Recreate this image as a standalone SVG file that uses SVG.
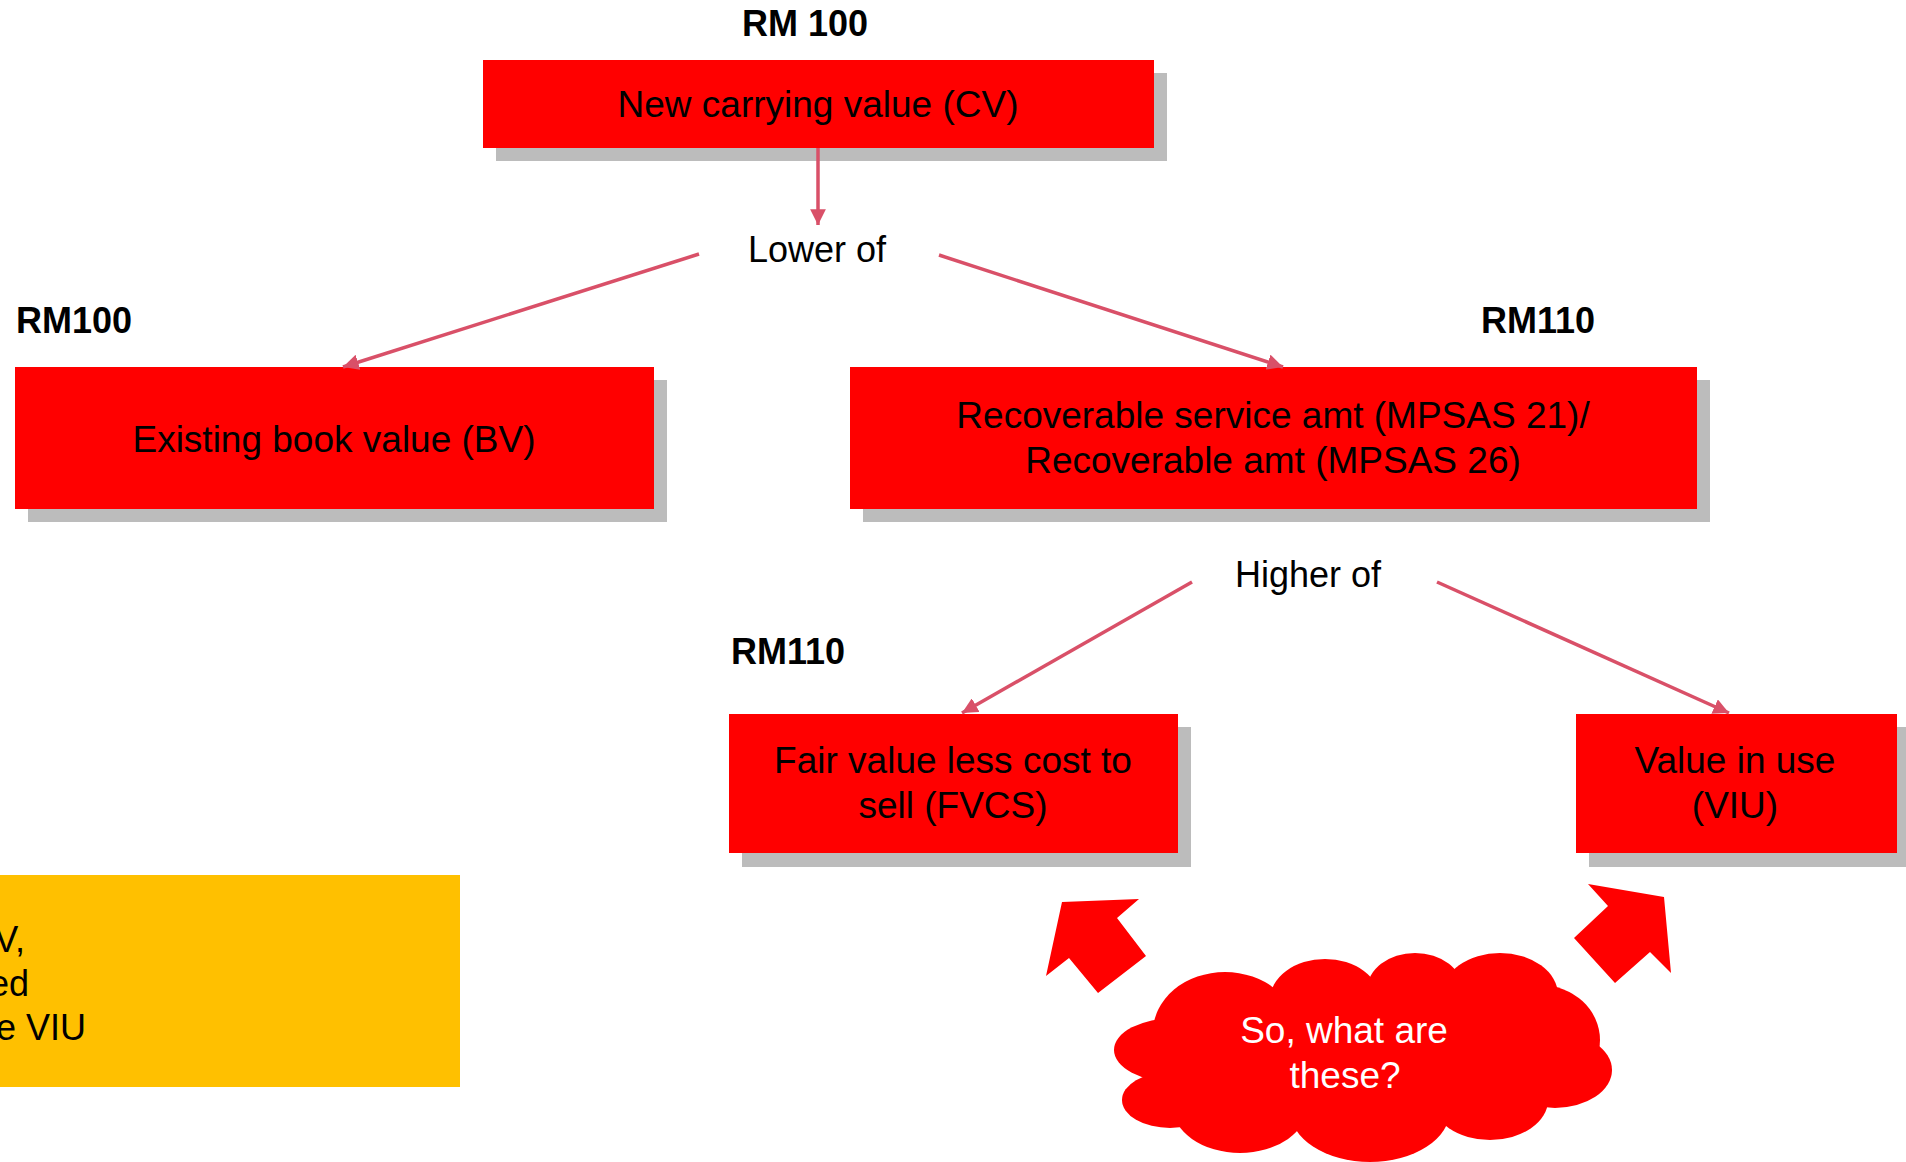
<svg xmlns="http://www.w3.org/2000/svg" width="1906" height="1162" viewBox="0 0 1906 1162">
<style>
.box{fill:#FF0000}
.shadow{fill:#BCBCBC}
.t{font-family:"Liberation Sans",Arial,sans-serif;font-size:37px;fill:#000;text-anchor:middle}
.lbl{font-family:"Liberation Sans",Arial,sans-serif;font-size:36px;fill:#000;text-anchor:middle}
.rm{font-family:"Liberation Sans",Arial,sans-serif;font-size:36px;font-weight:bold;fill:#000}
.conn{stroke:#D95068;stroke-width:3.5;fill:none;marker-end:url(#ah)}
.cloudtxt{font-family:"Liberation Sans",Arial,sans-serif;font-size:37px;fill:#FFFFFF;text-anchor:middle}
</style>
<defs>
<marker id="ah" viewBox="0 0 10 10" refX="10" refY="5" markerWidth="4.5" markerHeight="4.5" orient="auto" markerUnits="strokeWidth">
<path d="M0,0 L10,5 L0,10 Z" fill="#D95068"/>
</marker>
</defs>
<rect width="1906" height="1162" fill="#FFFFFF"/>

<g id="label-rm100-top"><text class="rm" x="805" y="36" text-anchor="middle">RM 100</text></g>
<g id="label-rm100-left"><text class="rm" x="16" y="333">RM100</text></g>
<g id="label-rm110-right"><text class="rm" x="1481" y="333">RM110</text></g>
<g id="label-rm110-mid"><text class="rm" x="731" y="664">RM110</text></g>

<g id="node-cv">
<rect class="shadow" x="496" y="73" width="671" height="88"/>
<rect class="box" x="483" y="60" width="671" height="88"/>
<text class="t" x="818" y="117">New carrying value (CV)</text>
</g>

<g id="node-lower"><text class="lbl" x="817" y="262">Lower of</text></g>

<g id="node-bv">
<rect class="shadow" x="28" y="380" width="639" height="142"/>
<rect class="box" x="15" y="367" width="639" height="142"/>
<text class="t" x="334" y="452">Existing book value (BV)</text>
</g>

<g id="node-rec">
<rect class="shadow" x="863" y="380" width="847" height="142"/>
<rect class="box" x="850" y="367" width="847" height="142"/>
<text class="t" x="1273" y="428">Recoverable service amt (MPSAS 21)/</text>
<text class="t" x="1273" y="473">Recoverable amt (MPSAS 26)</text>
</g>

<g id="node-higher"><text class="lbl" x="1308" y="587">Higher of</text></g>

<g id="node-fvcs">
<rect class="shadow" x="742" y="727" width="449" height="140"/>
<rect class="box" x="729" y="714" width="449" height="139"/>
<text class="t" x="953" y="773">Fair value less cost to</text>
<text class="t" x="953" y="818">sell (FVCS)</text>
</g>

<g id="node-viu">
<rect class="shadow" x="1589" y="727" width="330" height="140"/>
<rect class="box" x="1576" y="714" width="321" height="139"/>
<text class="t" x="1735" y="773">Value in use</text>
<text class="t" x="1735" y="818">(VIU)</text>
</g>

<g id="note">
<rect x="0" y="875" width="460" height="212" fill="#FFC000"/>
<text class="lbl" x="25" y="952" style="text-anchor:end">V,</text>
<text class="lbl" x="29" y="996" style="text-anchor:end">ed</text>
<text class="lbl" x="86" y="1040" style="text-anchor:end">e VIU</text>
</g>

<g id="block-arrows" fill="#FF0000">
<polygon points="1062,902 1139,899 1117,918 1146,956 1098,993 1069,958 1046,976"/>
<polygon points="1588,884 1664,897 1671,973 1650,952 1615,983 1574,938 1608,906"/>
</g>

<g id="cloud">
<g fill="#FF0000">
<ellipse cx="1225" cy="1032" rx="72" ry="60"/>
<ellipse cx="1325" cy="1000" rx="55" ry="41"/>
<ellipse cx="1415" cy="990" rx="48" ry="37"/>
<ellipse cx="1500" cy="995" rx="58" ry="42"/>
<ellipse cx="1540" cy="1040" rx="60" ry="55"/>
<ellipse cx="1555" cy="1070" rx="57" ry="38"/>
<ellipse cx="1490" cy="1100" rx="58" ry="40"/>
<ellipse cx="1370" cy="1110" rx="80" ry="52"/>
<ellipse cx="1240" cy="1105" rx="68" ry="48"/>
<ellipse cx="1170" cy="1100" rx="48" ry="28"/>
<ellipse cx="1175" cy="1050" rx="61" ry="32"/>
<ellipse cx="1360" cy="1060" rx="200" ry="70"/>
</g>
<text class="cloudtxt" x="1344" y="1043">So, what are</text>
<text class="cloudtxt" x="1345" y="1088">these?</text>
</g>

<g id="connectors">
<line class="conn" x1="818" y1="148" x2="818" y2="225"/>
<line class="conn" x1="699" y1="254" x2="343" y2="367"/>
<line class="conn" x1="939" y1="255" x2="1283" y2="367"/>
<line class="conn" x1="1192" y1="582" x2="962" y2="713"/>
<line class="conn" x1="1437" y1="582" x2="1729" y2="713"/>
</g>
</svg>
